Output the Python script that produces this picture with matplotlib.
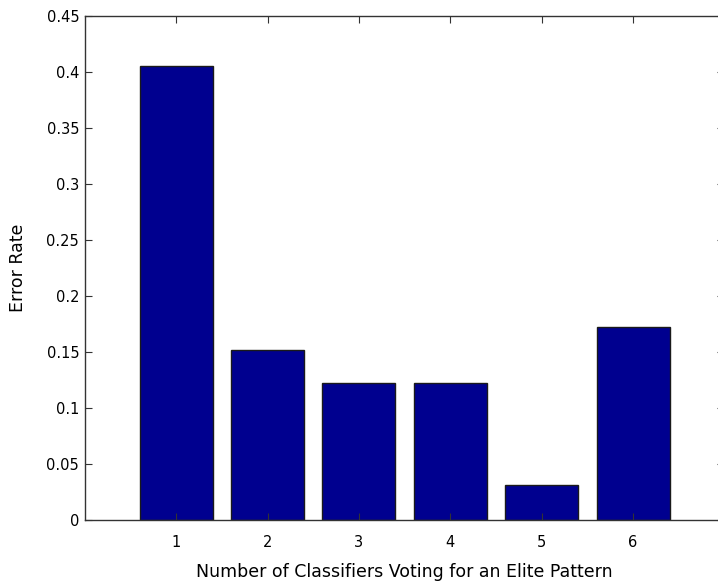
import numpy as np
import matplotlib
matplotlib.use("Agg")
import matplotlib.pyplot as plt

# number of classifiers voting and the resulting error rate
classifiers = [1, 2, 3, 4, 5, 6]
error_rate = [0.405, 0.152, 0.122, 0.122, 0.031, 0.172]
y_ticks = [0, 0.05, 0.1, 0.15, 0.2, 0.25, 0.3, 0.35, 0.4, 0.45]
y_labels = ["0", "0.05", "0.1", "0.15", "0.2", "0.25", "0.3", "0.35", "0.4", "0.45"]

fig = plt.figure(figsize=(7.18, 5.86), dpi=100)
# axes runs a little past the right edge, like the original crop
ax = fig.add_axes([0.118, 0.113, 0.891, 0.86])

ax.bar(classifiers, error_rate, width=0.8, color="#00008f",
       edgecolor="#1a1a1a", linewidth=1.0)

ax.set_xlim(0, 7)
ax.set_ylim(0, 0.45)
ax.set_xticks(classifiers)
ax.set_yticks(y_ticks)
ax.set_yticklabels(y_labels)

ax.tick_params(direction="in", length=5, width=0.8, labelsize=10.5,
               top=True, right=True, colors="#333333", labelcolor="black")
ax.tick_params(axis="x", pad=11)
ax.tick_params(axis="y", pad=4)
for s in ax.spines.values():
    s.set_color("#333333")
    s.set_linewidth(1.0)

ax.set_xlabel("Number of Classifiers Voting for an Elite Pattern", fontsize=12.5, labelpad=9)
ax.set_ylabel("Error Rate", fontsize=12.5, labelpad=14)

fig.savefig("out.png", dpi=100)
